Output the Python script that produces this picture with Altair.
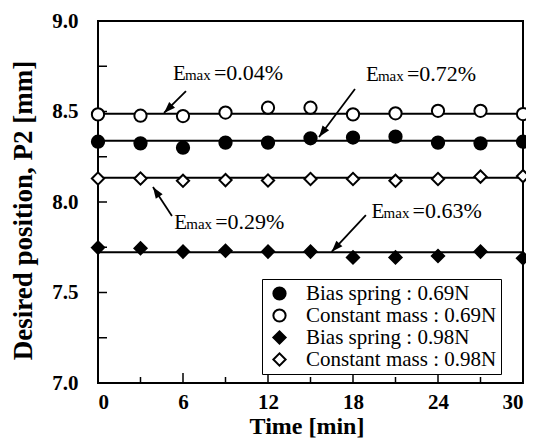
import math
import altair as alt
import pandas as pd

# ---------------- data ----------------
times = [0, 3, 6, 9, 12, 15, 18, 21, 24, 27, 30]
series_names = ["Bias spring : 0.69N", "Constant mass : 0.69N",
                "Bias spring : 0.98N", "Constant mass : 0.98N"]
bias_069 = [8.333, 8.324, 8.300, 8.328, 8.328, 8.352, 8.356, 8.361, 8.328, 8.324, 8.333]
const_069 = [8.484, 8.477, 8.475, 8.494, 8.521, 8.521, 8.484, 8.490, 8.504, 8.504, 8.486]
bias_098 = [7.748, 7.744, 7.726, 7.731, 7.726, 7.726, 7.694, 7.694, 7.702, 7.726, 7.689]
const_098 = [8.130, 8.130, 8.117, 8.121, 8.119, 8.127, 8.127, 8.117, 8.127, 8.140, 8.143]
fit_levels = [8.339, 8.487, 7.722, 8.134]

shapes = ["circle", "circle", "diamond", "diamond"]
fills = ["black", "white", "black", "white"]
strokes = ["black", "black", "black", "black"]
sizes = [150, 150, 120, 120]

ann_labels = ["=0.04%", "=0.72%", "=0.29%", "=0.63%"]
ann_text_x = [5.29, 18.91, 5.38, 19.31]
ann_text_y = [8.674, 8.669, 7.849, 7.910]
arrow_tail_x = [6.21, 18.14, 5.22, 18.91]
arrow_tail_y = [8.613, 8.624, 7.923, 7.928]
arrow_tip_x = [4.66, 15.60, 3.88, 16.49]
arrow_tip_y = [8.492, 8.359, 8.083, 7.725]

x_domain = [0, 30]
y_domain = [7.0, 9.0]
x_label_values = [0, 6, 12, 18, 24, 30]
x_minor_ticks = [3, 9, 15, 21, 27]
y_label_values = [7.0, 7.5, 8.0, 8.5, 9.0]
y_ticks = [7.25, 7.5, 7.75, 8.0, 8.25, 8.5, 8.75]

W, H = 425, 362
SERIF = "Liberation Serif"

# ---------------- tables ----------------
rows = []
for name, vals in zip(series_names, [bias_069, const_069, bias_098, const_098]):
    for t, v in zip(times, vals):
        rows.append({"t": t, "p": v, "series": name})
pts = pd.DataFrame(rows)

fits = pd.DataFrame({"level": fit_levels, "x0": times[0], "x1": times[-1]})

px_per_x = W / (x_domain[1] - x_domain[0])
px_per_y = H / (y_domain[1] - y_domain[0])
angles = []
for tx, ty, hx, hy in zip(arrow_tail_x, arrow_tail_y, arrow_tip_x, arrow_tip_y):
    ux = (hx - tx) * px_per_x
    uy = -(hy - ty) * px_per_y
    angles.append(math.degrees(math.atan2(ux, -uy)) % 360)

ann = pd.DataFrame({
    "label": ann_labels, "tx": ann_text_x, "ty": ann_text_y,
    "ax": arrow_tail_x, "ay": arrow_tail_y, "bx": arrow_tip_x, "by": arrow_tip_y,
    "angle": angles, "E": "E", "max": "max",
})

xs = alt.Scale(domain=x_domain, nice=False, zero=False)
ys = alt.Scale(domain=y_domain, nice=False, zero=False)

x_axis = alt.Axis(values=x_label_values, format="d", title="Time [min]",
                  ticks=False, domain=False, grid=False, labelPadding=8,
                  labelFont=SERIF, labelFontSize=21, labelFontWeight="bold",
                  labelColor="black", titleFont=SERIF, titleFontSize=24,
                  titleFontWeight="bold", titleColor="black", titlePadding=2,
                  titleX=W / 2 - 4)
y_axis = alt.Axis(values=y_label_values, format=".1f",
                  title="Desired position, P2 [mm]",
                  ticks=False, domain=False, grid=False, labelPadding=20,
                  labelFont=SERIF, labelFontSize=21, labelFontWeight="bold",
                  labelColor="black", titleFont=SERIF, titleFontSize=27,
                  titleFontWeight="bold", titleColor="black", titlePadding=14,
                  titleY=H / 2 + 8)

# fitted horizontal lines
lines = alt.Chart(fits).mark_rule(color="black", strokeWidth=2).encode(
    x=alt.X("x0:Q", scale=xs, axis=x_axis),
    x2="x1:Q",
    y=alt.Y("level:Q", scale=ys, axis=y_axis),
)

# inward ticks
ytick_df = pd.DataFrame({"v": y_ticks})
yticks = alt.Chart(ytick_df).mark_rule(color="black", strokeWidth=1.5).encode(
    y=alt.Y("v:Q", scale=ys), x=alt.value(0), x2=alt.value(9))
xmaj_df = pd.DataFrame({"v": x_label_values[1:-1]})
xmaj = alt.Chart(xmaj_df).mark_rule(color="black", strokeWidth=1.5).encode(
    x=alt.X("v:Q", scale=xs), y=alt.value(H), y2=alt.value(H - 10))
xmin_df = pd.DataFrame({"v": x_minor_ticks})
xmin = alt.Chart(xmin_df).mark_rule(color="black", strokeWidth=1.5).encode(
    x=alt.X("v:Q", scale=xs), y=alt.value(H), y2=alt.value(H - 6))

# annotation arrows
shafts = alt.Chart(ann).mark_rule(color="black", strokeWidth=1.8).encode(
    x=alt.X("ax:Q", scale=xs), y=alt.Y("ay:Q", scale=ys), x2="bx:Q", y2="by:Q")
heads = alt.Chart(ann).mark_point(
    shape="M0,0L0.36,1L-0.36,1Z", filled=True, color="black", opacity=1,
    size=520).encode(
    x=alt.X("bx:Q", scale=xs), y=alt.Y("by:Q", scale=ys),
    angle=alt.Angle("angle:Q", scale=None))

txt_E = alt.Chart(ann).mark_text(font=SERIF, fontSize=21, align="left",
                                 baseline="alphabetic", color="black").encode(
    x=alt.X("tx:Q", scale=xs), y=alt.Y("ty:Q", scale=ys), text="E:N")
txt_max = alt.Chart(ann).mark_text(font=SERIF, fontSize=15, align="left",
                                   baseline="alphabetic", color="black", dx=12).encode(
    x=alt.X("tx:Q", scale=xs), y=alt.Y("ty:Q", scale=ys), text="max:N")
txt_val = alt.Chart(ann).mark_text(font=SERIF, fontSize=22, align="left",
                                   baseline="alphabetic", color="black", dx=41).encode(
    x=alt.X("tx:Q", scale=xs), y=alt.Y("ty:Q", scale=ys), text="label:N")

legend = alt.Legend(orient="none", legendX=164, legendY=258, title=None,
                    labelFont=SERIF, labelFontSize=21, labelColor="black",
                    labelLimit=400, strokeColor="black",
                    fillColor="white", padding=4, symbolOffset=3,
                    labelOffset=16, rowPadding=0, symbolStrokeColor="black",
                    symbolStrokeWidth=2)

points = alt.Chart(pts).mark_point(filled=True, strokeWidth=2, opacity=1).encode(
    x=alt.X("t:Q", scale=xs),
    y=alt.Y("p:Q", scale=ys),
    shape=alt.Shape("series:N", scale=alt.Scale(domain=series_names, range=shapes), legend=legend),
    fill=alt.Fill("series:N", scale=alt.Scale(domain=series_names, range=fills), legend=legend),
    stroke=alt.Stroke("series:N", scale=alt.Scale(domain=series_names, range=strokes), legend=legend),
    size=alt.Size("series:N", scale=alt.Scale(domain=series_names, range=sizes), legend=legend),
)

chart = alt.layer(lines, yticks, xmaj, xmin, shafts, heads, txt_E, txt_max, txt_val,
                  points).properties(
    width=W, height=H,
    autosize=alt.AutoSizeParams(type="none"),
    padding={"left": 90, "top": 13, "right": 3, "bottom": 55},
    background="white",
).configure_view(stroke="black", strokeWidth=2)

chart.save("out.html", embed_options={"renderer": "svg", "actions": False})
